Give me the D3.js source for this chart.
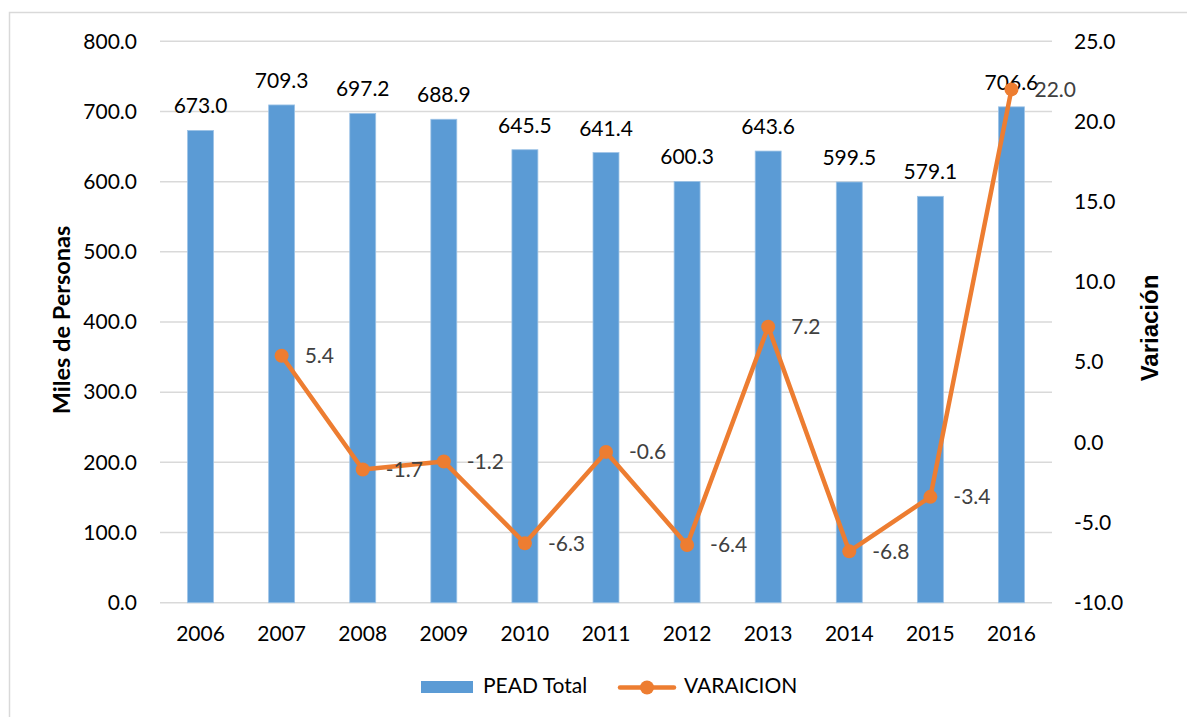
<!DOCTYPE html>
<html><head><meta charset="utf-8">
<script src="https://cdn.jsdelivr.net/npm/d3@7"></script>
<style>body{margin:0;background:#fff}svg{display:block}</style>
</head><body>
<script>
const years = ["2006","2007","2008","2009","2010","2011","2012","2013","2014","2015","2016"];
const pead = [673.0,709.3,697.2,688.9,645.5,641.4,600.3,643.6,599.5,579.1,706.6];
const variacion = [null,5.4,-1.7,-1.2,-6.3,-0.6,-6.4,7.2,-6.8,-3.4,22.0];
const leftTicks = [0,100,200,300,400,500,600,700,800];
const rightTicks = [-10,-5,0,5,10,15,20,25];
const seriesNames = ["PEAD Total","VARAICION"];

const W=1187,H=717;
const svg=d3.select("body").append("svg").attr("width",W).attr("height",H);
const font="Lato, 'Open Sans', sans-serif";
const fs=21;
const fmt=d=>d.toFixed(1);
svg.append("rect").attr("x",9.5).attr("y",12.5).attr("width",1190).attr("height",720)
  .attr("fill","#fff").attr("stroke","#d9d9d9").attr("stroke-width",1.5);

const x0=160,x1=1052,yTop=41.3,yBot=602.7;
const x=d3.scaleBand().domain(years).range([x0,x1]).paddingInner(0.68).paddingOuter(0.34);
const yL=d3.scaleLinear().domain([0,800]).range([yBot,yTop]);
const yR=d3.scaleLinear().domain([-10,25]).range([yBot,yTop]);

// gridlines
svg.append("g").selectAll("line").data(leftTicks).join("line")
  .attr("x1",x0).attr("x2",x1).attr("y1",d=>yL(d)).attr("y2",d=>yL(d))
  .attr("stroke","#d9d9d9").attr("stroke-width",1.5);

// left axis
const gl=svg.append("g").attr("transform",`translate(${x0},0)`)
  .call(d3.axisLeft(yL).tickValues(leftTicks).tickFormat(fmt).tickSize(0).tickPadding(23));
gl.select(".domain").remove();
gl.selectAll("text").attr("font-family",font).attr("font-size",fs).attr("fill","#000");

// right axis
const gr=svg.append("g").attr("transform",`translate(${x1},0)`)
  .call(d3.axisRight(yR).tickValues(rightTicks).tickFormat(fmt).tickSize(0).tickPadding(22));
gr.select(".domain").remove();
gr.selectAll("text").attr("font-family",font).attr("font-size",fs).attr("fill","#000");

// x axis
const gx=svg.append("g").attr("transform",`translate(0,${yBot})`)
  .call(d3.axisBottom(x).tickSize(0).tickPadding(23));
gx.select(".domain").remove();
gx.selectAll("text").attr("font-family",font).attr("font-size",fs).attr("fill","#000");

// bars
svg.append("g").selectAll("rect").data(pead).join("rect")
  .attr("x",(d,i)=>x(years[i])).attr("width",x.bandwidth())
  .attr("y",d=>yL(d)).attr("height",d=>yBot-yL(d))
  .attr("fill","#5b9bd5").attr("stroke","#9dc3e6").attr("stroke-width",0.8);

// bar labels
svg.append("g").selectAll("text").data(pead).join("text")
  .attr("x",(d,i)=>x(years[i])+x.bandwidth()/2).attr("y",d=>yL(d)-17)
  .attr("text-anchor","middle").attr("font-family",font).attr("font-size",fs).attr("fill","#000")
  .text(fmt);

// line
const pts=variacion.map((v,i)=>({v,i})).filter(d=>d.v!==null);
const cx=d=>x(years[d.i])+x.bandwidth()/2;
svg.append("path").datum(pts)
  .attr("d",d3.line().x(cx).y(d=>yR(d.v)))
  .attr("fill","none").attr("stroke","#ed7d31").attr("stroke-width",4.5).attr("stroke-linejoin","round");
svg.append("g").selectAll("circle").data(pts).join("circle")
  .attr("cx",cx).attr("cy",d=>yR(d.v)).attr("r",7).attr("fill","#ed7d31");
svg.append("g").selectAll("text").data(pts).join("text")
  .attr("x",d=>cx(d)+23).attr("y",d=>yR(d.v)+2).attr("dominant-baseline","middle")
  .attr("font-family",font).attr("font-size",fs).attr("fill","#404040")
  .text(d=>fmt(d.v));

// axis titles
svg.append("text").attr("transform","translate(70,320) rotate(-90)").attr("text-anchor","middle")
  .attr("font-family",font).attr("font-weight","bold").attr("font-size",23.5).attr("fill","#000")
  .text("Miles de Personas");
svg.append("text").attr("transform","translate(1158,328) rotate(-90)").attr("text-anchor","middle")
  .attr("font-family","'Liberation Sans', Arial, sans-serif").attr("font-weight","bold").attr("font-size",24).attr("fill","#000")
  .text("Variación");

// legend
const lg=svg.append("g");
lg.append("rect").attr("x",421).attr("y",681).attr("width",52).attr("height",12).attr("fill","#5b9bd5");
lg.append("text").attr("x",483).attr("y",688).attr("dominant-baseline","middle")
  .attr("font-family",font).attr("font-size",fs).attr("fill","#000").text(seriesNames[0]);
lg.append("line").attr("x1",620).attr("x2",674).attr("y1",687.5).attr("y2",687.5)
  .attr("stroke","#ed7d31").attr("stroke-width",4.5).attr("stroke-linecap","round");
lg.append("circle").attr("cx",647).attr("cy",687.5).attr("r",7).attr("fill","#ed7d31");
lg.append("text").attr("x",684).attr("y",688).attr("dominant-baseline","middle")
  .attr("font-family",font).attr("font-size",fs).attr("fill","#000").text(seriesNames[1]);
</script>
</body></html>
